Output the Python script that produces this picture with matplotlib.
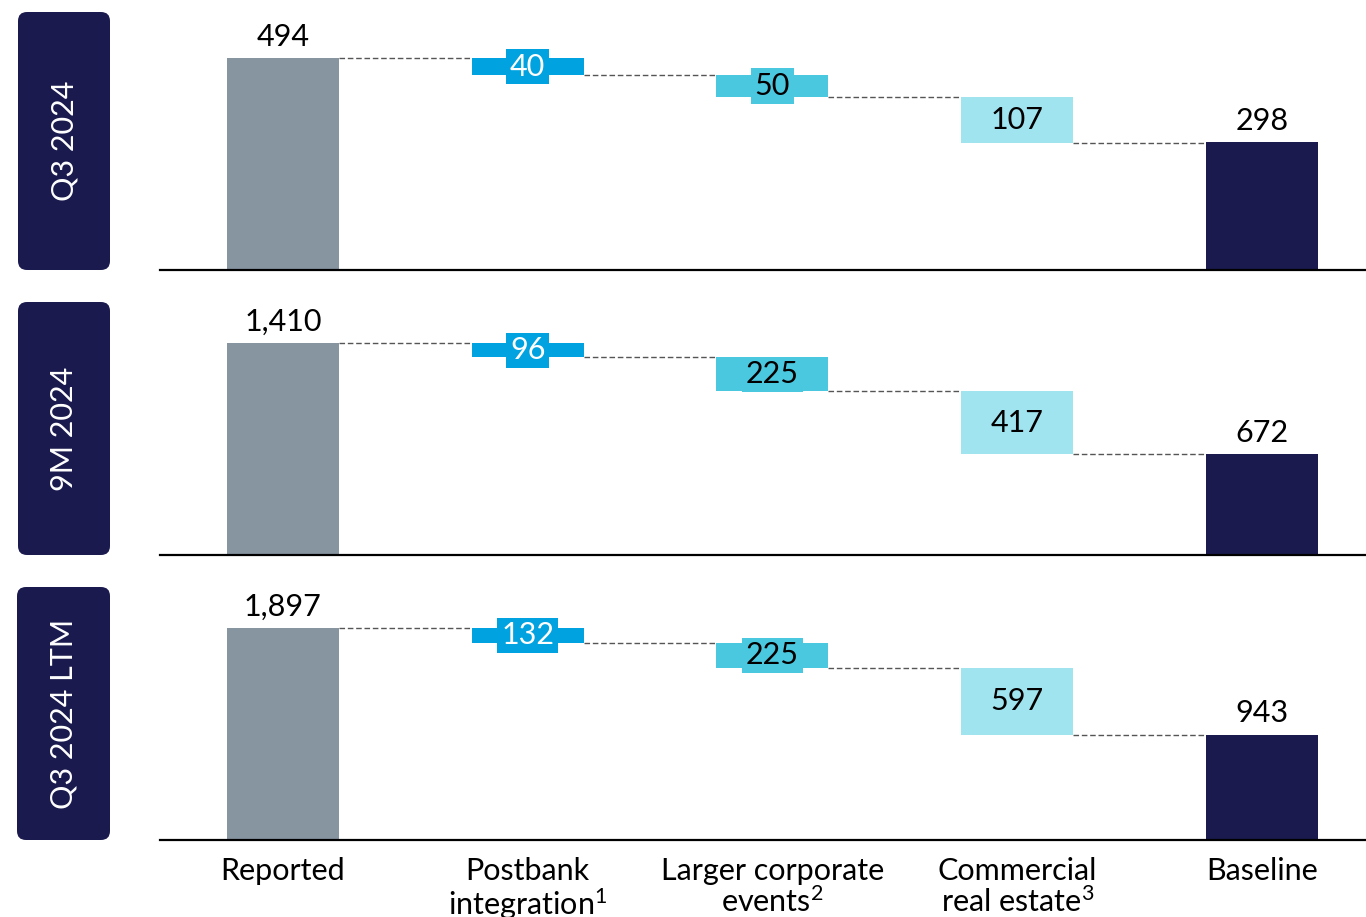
import matplotlib
matplotlib.use("Agg")
import matplotlib.pyplot as plt
from matplotlib.patches import FancyBboxPatch

plt.rcParams['font.family'] = ['Lato', 'DejaVu Sans']
plt.rcParams['mathtext.fontset'] = 'custom'
plt.rcParams['mathtext.rm'] = 'Lato'
plt.rcParams['mathtext.it'] = 'Lato'
plt.rcParams['mathtext.bf'] = 'Lato'

categories = ["Reported", "Postbank\nintegration$^1$", "Larger corporate\nevents$^2$",
              "Commercial\nreal estate$^3$", "Baseline"]
periods = ["Q3 2024", "9M 2024", "Q3 2024 LTM"]
reported = [494, 1410, 1897]
postbank = [40, 96, 132]
corporate = [50, 225, 225]
cre = [107, 417, 597]
baseline = [298, 672, 943]

NAVY = "#1A1A4E"
GRAY = "#8795A1"
C_POST = "#00A3E0"
C_CORP = "#4AC8E0"
C_CRE = "#A0E4F0"

W, H = 1366, 917
fig = plt.figure(figsize=(W / 100, H / 100), dpi=100)

panels_px = [(12, 270), (297, 555), (582, 840)]
boxes_px = [(18, 12, 110, 270), (18, 302, 110, 555), (17, 587, 110, 840)]

FS = 22
bw = 0.457

for p in range(3):
    top, bot = panels_px[p]
    ax = fig.add_axes([160 / W, 1 - bot / H, 1 - 160 / W, (bot - top) / H])
    vals_delta = [postbank[p], corporate[p], cre[p]]
    cols = [C_POST, C_CORP, C_CRE]
    txtcols = ["white", "black", "black"]
    scale_top = reported[p] * (bot - top) / 212.0
    ax.set_ylim(0, scale_top)
    ax.set_xlim(-0.502, 4.425)

    ax.bar(0, reported[p], width=bw, color=GRAY)
    ax.text(0, reported[p] + scale_top * 0.028, f"{reported[p]:,}", ha="center", va="bottom",
            fontsize=FS, color="black")
    level = reported[p]
    prev_right = 0 + bw / 2
    for i, (d, c, tc) in enumerate(zip(vals_delta, cols, txtcols)):
        x = i + 1
        ax.plot([prev_right, x - bw / 2], [level, level], ls=(0, (4, 2)), color="#555555", lw=1)
        ax.bar(x, d, bottom=level - d, width=bw, color=c)
        ax.text(x, level - d / 2, f"{d:,}", ha="center", va="center", fontsize=FS, color=tc,
                bbox=dict(boxstyle="square,pad=0.12", fc=c, ec="none"))
        level -= d
        prev_right = x + bw / 2
    ax.plot([prev_right, 4 - bw / 2], [level, level], ls=(0, (4, 2)), color="#555555", lw=1)
    ax.bar(4, baseline[p], width=bw, color=NAVY)
    ax.text(4, baseline[p] + scale_top * 0.028, f"{baseline[p]:,}", ha="center", va="bottom",
            fontsize=FS, color="black")

    for s in ["top", "right", "left"]:
        ax.spines[s].set_visible(False)
    ax.spines["bottom"].set_linewidth(1.6)
    ax.spines["bottom"].set_color("black")
    ax.set_yticks([])
    ax.set_xticks(range(5))
    if p == 2:
        ax.set_xticklabels(categories, fontsize=FS, linespacing=1.05)
        ax.tick_params(axis="x", length=0, pad=12)
    else:
        ax.set_xticklabels([])
        ax.tick_params(axis="x", length=0)
    ax.patch.set_alpha(0)

    x0, y0, x1, y1 = boxes_px[p]
    bax = fig.add_axes([x0 / W, 1 - y1 / H, (x1 - x0) / W, (y1 - y0) / H])
    bax.set_xlim(0, x1 - x0)
    bax.set_ylim(0, y1 - y0)
    bax.axis("off")
    bax.add_patch(FancyBboxPatch((0, 0), x1 - x0, y1 - y0,
                                 boxstyle="round,pad=0,rounding_size=9",
                                 fc=NAVY, ec="none"))
    bax.text((x1 - x0) / 2, (y1 - y0) / 2, periods[p], rotation=90, ha="center", va="center",
             color="white", fontsize=FS)

fig.savefig("out.png", dpi=100)
